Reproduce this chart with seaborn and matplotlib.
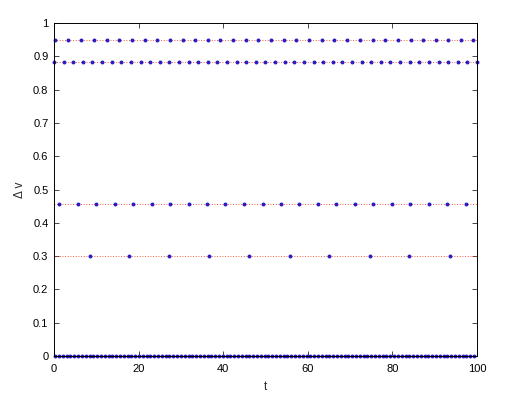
#!/usr/bin/env python3
"""Delta v levels against t, MATLAB-style dotted reference lines."""

import matplotlib
matplotlib.use("Agg")
import matplotlib.pyplot as plt
import pandas as pd
import seaborn as sns

LEVELS = [0.948, 0.882, 0.456, 0.3, 0.0]

T_948 = [0.2, 3.4, 6.4, 9.5, 12.5, 15.4, 18.4, 21.4, 24.4, 27.4, 30.4, 33.4,
         36.4, 39.3, 42.3, 45.3, 48.3, 51.3, 54.3, 57.3, 60.3, 63.3, 66.3,
         69.3, 72.3, 75.3, 78.3, 81.3, 84.3, 87.2, 90.2, 93.2, 96.1, 99.1]
T_882 = [0.0, 2.3, 4.5, 6.8, 9.1, 11.4, 13.6, 15.9, 18.2, 20.5, 22.7, 25.0,
         27.3, 29.5, 31.8, 34.1, 36.4, 38.6, 40.9, 43.2, 45.5, 47.7, 50.0,
         52.3, 54.5, 56.8, 59.1, 61.4, 63.6, 65.9, 68.2, 70.5, 72.7, 75.0,
         77.3, 79.5, 81.8, 84.1, 86.4, 88.6, 90.9, 93.2, 95.5, 97.7, 100.0]
T_456 = [1.3, 5.6, 10.0, 14.4, 18.7, 23.1, 27.5, 31.8, 36.2, 40.5, 44.9, 49.3,
         53.6, 58.0, 62.4, 66.7, 71.1, 75.5, 79.8, 84.2, 88.6, 92.9, 97.3]
T_300 = [8.4, 17.8, 27.3, 36.7, 46.2, 55.7, 65.1, 74.6, 84.0, 93.5]
T_000 = [0.3, 1.2, 2.1, 3.0, 3.9, 4.8, 5.7, 6.6, 7.5, 8.4, 9.3, 10.2, 11.1,
         12.0, 12.9, 13.8, 14.7, 15.6, 16.5, 17.4, 18.3, 19.2, 20.1, 21.0,
         21.9, 22.8, 23.7, 24.6, 25.5, 26.4, 27.3, 28.2, 29.1, 30.0, 30.9,
         31.8, 32.7, 33.6, 34.5, 35.4, 36.3, 37.2, 38.1, 39.0, 39.9, 40.8,
         41.7, 42.6, 43.5, 44.4, 45.3, 46.2, 47.1, 48.0, 48.9, 49.8, 50.7,
         51.6, 52.5, 53.4, 54.3, 55.2, 56.1, 57.0, 57.9, 58.8, 59.7, 60.6,
         61.5, 62.4, 63.3, 64.2, 65.1, 66.0, 66.9, 67.8, 68.7, 69.6, 70.5,
         71.4, 72.3, 73.2, 74.1, 75.0, 75.9, 76.8, 77.7, 78.6, 79.5, 80.4,
         81.3, 82.2, 83.1, 84.0, 84.9, 85.8, 86.7, 87.6, 88.5, 89.4, 90.3,
         91.2, 92.1, 93.0, 93.9, 94.8, 95.7, 96.6, 97.5, 98.4, 99.3]

X_TICKS = [0, 20, 40, 60, 80, 100]
Y_TICKS = [0, 0.1, 0.2, 0.3, 0.4, 0.5, 0.6, 0.7, 0.8, 0.9, 1]
Y_LABELS = ["0", "0.1", "0.2", "0.3", "0.4", "0.5", "0.6", "0.7", "0.8", "0.9", "1"]

sns.set_style("ticks")
plt.rcParams["font.family"] = ["Liberation Sans", "DejaVu Sans"]

frames = []
for level, times in zip(LEVELS, [T_948, T_882, T_456, T_300, T_000]):
    frames.append(pd.DataFrame({"t": times, "dv": level}))
points = pd.concat(frames, ignore_index=True)

fig = plt.figure(figsize=(5.10, 4.07), dpi=100)
ax = fig.add_axes([54 / 510, 51 / 407, 423 / 510, 333 / 407])

for level in LEVELS:
    ax.axhline(level, color="#ff2000", lw=0.6, ls=(0, (1, 2.2)), zorder=1)

sns.scatterplot(data=points, x="t", y="dv", color="#2a1cc0", s=8,
                linewidth=0, ax=ax, zorder=2, clip_on=False)

ax.set_xlim(0, 100)
ax.set_ylim(0, 1)
ax.set_xticks(X_TICKS)
ax.set_xticklabels([str(v) for v in X_TICKS])
ax.set_yticks(Y_TICKS)
ax.set_yticklabels(Y_LABELS)
ax.tick_params(direction="in", top=True, right=True, length=3.5, width=0.5,
               labelsize=8, colors="black")
ax.tick_params(axis="x", pad=6)
ax.tick_params(axis="y", pad=4)
for spine in ax.spines.values():
    spine.set_linewidth(0.7)
    spine.set_color("black")
ax.set_xlabel("t", fontsize=8.5, labelpad=5)
ax.set_ylabel("\u0394 v", fontsize=8.5, labelpad=5)

fig.savefig("out.png", dpi=100)
